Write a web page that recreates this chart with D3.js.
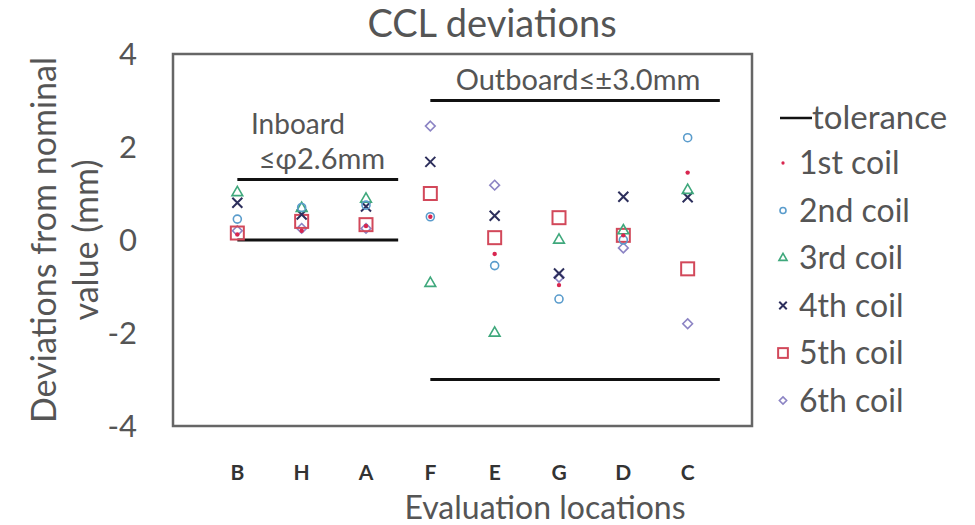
<!DOCTYPE html>
<html>
<head>
<meta charset="utf-8">
<script src="https://cdn.jsdelivr.net/npm/d3@7"></script>
<style>
  body { margin: 0; background: #fff; }
  text { font-family: Lato, "Open Sans", sans-serif; fill: #555; }
</style>
</head>
<body>
<div id="chart"></div>
<script>
var width = 975,
    height = 525;

// evaluation locations along the x axis
var locations = ["B", "H", "A", "F", "E", "G", "D", "C"];
var yTicks = [4, 2, 0, -2, -4];

// deviations (mm) per coil, one value per location
var coil1 = [0.12, 0.2, 0.3, 0.5, -0.3, -0.97, 0.1, 1.45];
var coil2 = [0.45, 0.7, 0.75, 0.5, -0.55, -1.27, 0.0, 2.2];
var coil3 = [1.02, 0.68, 0.88, -0.93, -2.0, 0.0, 0.2, 1.07];
var coil4 = [0.8, 0.55, 0.72, 1.68, 0.52, -0.72, 0.93, 0.92];
var coil5 = [0.15, 0.4, 0.33, 1.0, 0.05, 0.48, 0.1, -0.62];
var coil6 = [0.2, 0.25, 0.25, 2.45, 1.18, -0.8, -0.17, -1.8];

var coilNames = ["1st coil", "2nd coil", "3rd coil", "4th coil", "5th coil", "6th coil"];
var coilColors = ["#d8264f", "#5a9ccc", "#3fa87c", "#2d2f5c", "#d2485a", "#8c84c4"];
var coilShapes = ["dot", "circle", "triangle", "cross", "square", "diamond"];
var coils = [coil1, coil2, coil3, coil4, coil5, coil6];

// tolerance segments: [from index, to index, value]
var toleranceLines = [[0, 2.5, 1.3], [0, 2.5, 0], [3, 7.5, 3.0], [3, 7.5, -3.0]];

var svg = d3.select("#chart").append("svg")
    .attr("width", width)
    .attr("height", height);

var frame = {left: 173, right: 752, top: 54, bottom: 426};

var x = d3.scaleLinear()
    .domain([-1, locations.length])
    .range([frame.left, frame.right]);

var y = d3.scaleLinear()
    .domain([-4, 4])
    .range([frame.bottom, frame.top]);

// plot frame
svg.append("rect")
    .attr("x", frame.left)
    .attr("y", frame.top)
    .attr("width", frame.right - frame.left)
    .attr("height", frame.bottom - frame.top)
    .attr("fill", "none")
    .attr("stroke", "#666")
    .attr("stroke-width", 2.5);

// title
svg.append("text")
    .attr("x", 492)
    .attr("y", 37)
    .attr("text-anchor", "middle")
    .style("font-size", "38px")
    .text("CCL deviations");

// y tick labels
svg.selectAll(".ytick")
    .data(yTicks)
    .enter().append("text")
    .attr("class", "ytick")
    .attr("x", 137)
    .attr("y", function(d) { return y(d) + 11; })
    .attr("text-anchor", "end")
    .style("font-size", "31px")
    .text(function(d) { return d; });

// x tick labels
svg.selectAll(".xtick")
    .data(locations)
    .enter().append("text")
    .attr("class", "xtick")
    .attr("x", function(d, i) { return x(i); })
    .attr("y", 480)
    .attr("text-anchor", "middle")
    .style("font-size", "21px")
    .style("font-weight", "bold")
    .style("fill", "#333")
    .text(function(d) { return d; });

// axis titles
svg.append("text")
    .attr("x", 545)
    .attr("y", 519)
    .attr("text-anchor", "middle")
    .style("font-size", "32px")
    .text("Evaluation locations");

var yTitle = svg.append("text")
    .attr("transform", "translate(56,240)rotate(-90)")
    .attr("text-anchor", "middle")
    .style("font-size", "34px");
yTitle.append("tspan").attr("x", 0).attr("dy", 0).text("Deviations from nominal");
yTitle.append("tspan").attr("x", 0).attr("dy", 42).text("value (mm)");

// tolerance lines
svg.selectAll(".tol")
    .data(toleranceLines)
    .enter().append("line")
    .attr("class", "tol")
    .attr("x1", function(d) { return x(d[0]); })
    .attr("x2", function(d) { return x(d[1]); })
    .attr("y1", function(d) { return y(d[2]); })
    .attr("y2", function(d) { return y(d[2]); })
    .attr("stroke", "#111")
    .attr("stroke-width", 3);

// annotations
svg.append("text")
    .attr("x", 298).attr("y", 134)
    .attr("text-anchor", "middle")
    .style("font-size", "28px")
    .text("Inboard");
svg.append("text")
    .attr("x", 322).attr("y", 169)
    .attr("text-anchor", "middle")
    .style("font-size", "29px")
    .text("≤φ2.6mm");
svg.append("text")
    .attr("x", 578).attr("y", 90)
    .attr("text-anchor", "middle")
    .style("font-size", "29px")
    .text("Outboard≤±3.0mm");

// draw one marker at (cx, cy)
function drawMarker(sel, shape, color, cx, cy, s) {
  var g = sel.append("g").attr("transform", "translate(" + cx + "," + cy + ")");
  if (shape === "dot") {
    g.append("circle").attr("r", 2.2 * s).attr("fill", color);
  } else if (shape === "circle") {
    g.append("circle").attr("r", 4 * s).attr("fill", "none")
      .attr("stroke", color).attr("stroke-width", 1.6);
  } else if (shape === "triangle") {
    g.append("path").attr("d", d3.symbol(d3.symbolTriangle, 50 * s * s)())
      .attr("fill", "none").attr("stroke", color).attr("stroke-width", 1.6);
  } else if (shape === "cross") {
    var r = 5 * s;
    g.append("path").attr("d", "M" + -r + "," + -r + "L" + r + "," + r + "M" + -r + "," + r + "L" + r + "," + -r)
      .attr("stroke", color).attr("stroke-width", 2);
  } else if (shape === "square") {
    g.append("rect").attr("x", -6.5 * s).attr("y", -6.5 * s)
      .attr("width", 13 * s).attr("height", 13 * s)
      .attr("fill", "none").attr("stroke", color).attr("stroke-width", 2);
  } else if (shape === "diamond") {
    g.append("path").attr("d", d3.symbol(d3.symbolDiamond2, 60 * s * s)())
      .attr("fill", "none").attr("stroke", color).attr("stroke-width", 1.6);
  }
}

// points, drawn from 6th coil down so 1st coil dots stay on top
var pts = svg.append("g");
for (var c = coils.length - 1; c >= 0; c--) {
  coils[c].forEach(function(v, i) {
    drawMarker(pts, coilShapes[c], coilColors[c], x(i), y(v), 1);
  });
}

// legend
var legend = svg.append("g");
legend.append("line")
    .attr("x1", 780).attr("x2", 812)
    .attr("y1", 118).attr("y2", 118)
    .attr("stroke", "#111").attr("stroke-width", 2.5);
legend.append("text")
    .attr("x", 812).attr("y", 129)
    .style("font-size", "33px")
    .text("tolerance");

coilNames.forEach(function(name, i) {
  var ly = 163 + i * 47.5;
  drawMarker(legend, coilShapes[i], coilColors[i], 783, ly, 0.75);
  legend.append("text")
      .attr("x", 799).attr("y", ly + 11)
      .style("font-size", "32px")
      .text(name);
});
</script>
</body>
</html>
